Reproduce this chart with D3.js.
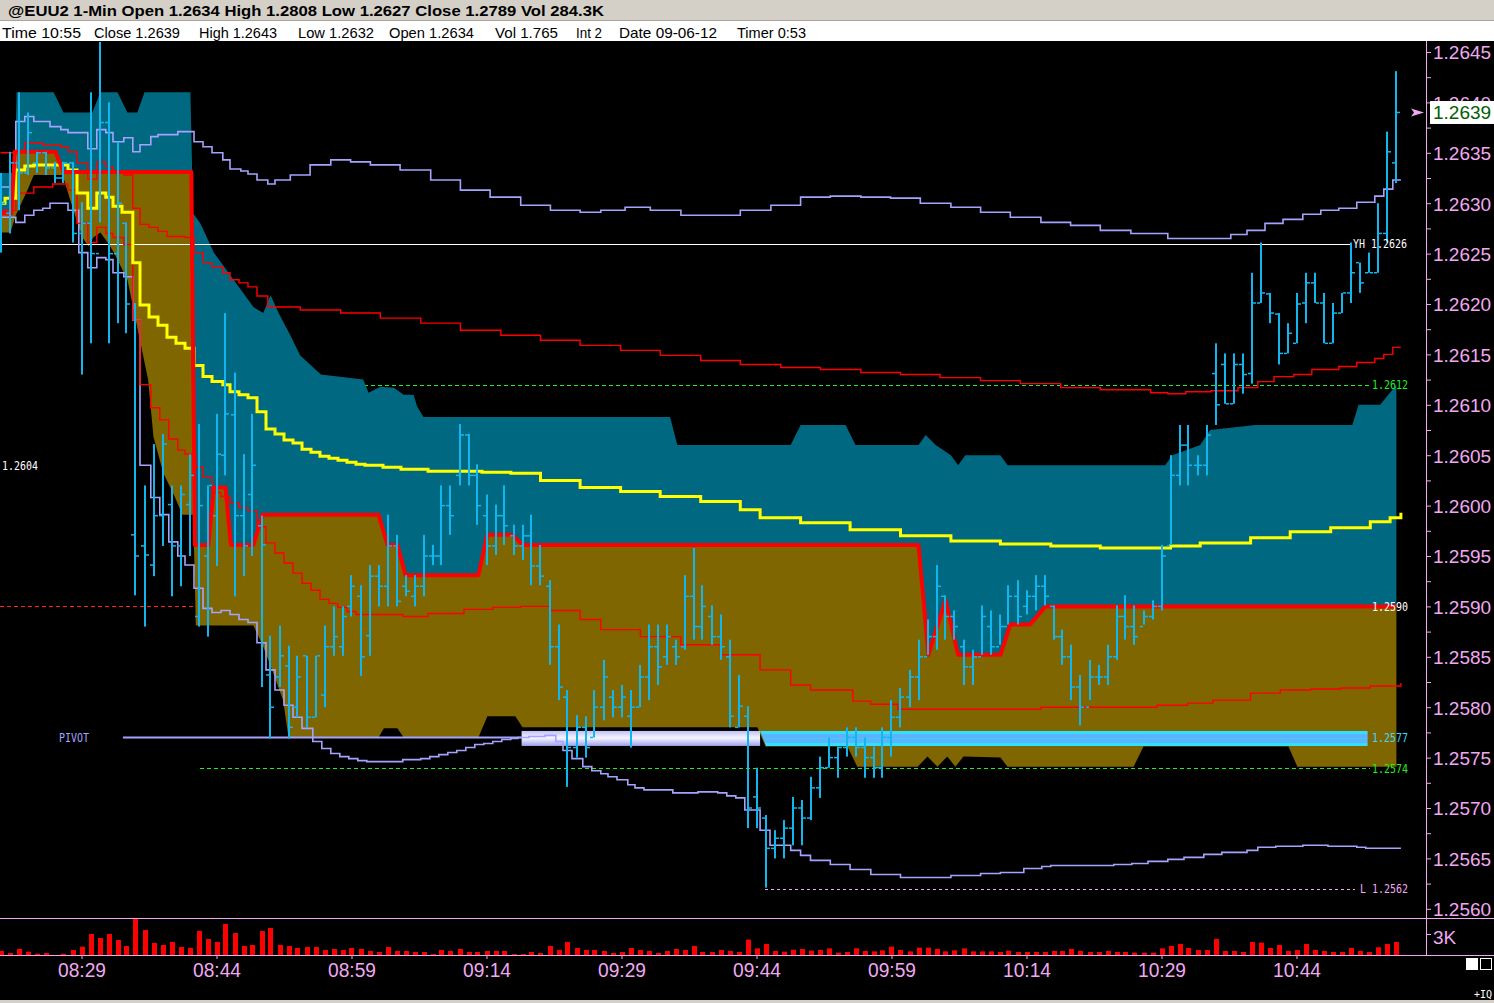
<!DOCTYPE html>
<html><head><meta charset="utf-8">
<script src="https://cdn.jsdelivr.net/npm/d3@7"></script>
<style>
html,body{margin:0;padding:0;background:#000;overflow:hidden;}
svg{display:block;}
</style></head><body>
<svg id="c" width="1494" height="1003"></svg>
<script>
// ---------------- DATA ----------------
const startTime = "08:20";
const timeTickBars = [9,24,39,54,69,84,99,114,129,144];
const timeTickLabels = ["08:29","08:44","08:59","09:14","09:29","09:44","09:59","10:14","10:29","10:44"];
const priceTickLabels = [1.2560,1.2565,1.2570,1.2575,1.2580,1.2585,1.2590,1.2595,1.2600,1.2605,1.2610,1.2615,1.2620,1.2625,1.2630,1.2635,1.2640,1.2645];
const priceMinorTicks = [1.25625,1.25675,1.25725,1.25775,1.25825,1.25875,1.25925,1.25975,1.26025,1.26075,1.26125,1.26175,1.26225,1.26275,1.26325,1.26375,1.26425];

const opens = [1.26270,1.26290,1.26340,1.26330,1.26340,1.26350,1.26335,1.26325,1.26340,1.26270,1.26280,1.26250,1.26380,1.26250,1.26280,1.25971,1.25960,1.25941,1.25990,1.26001,1.25960,1.26001,1.25890,1.25950,1.25990,1.26050,1.26090,1.25990,1.26011,1.25980,1.25832,1.25830,1.25841,1.25800,1.25851,1.25790,1.25812,1.25860,1.25860,1.25900,1.25910,1.25871,1.25930,1.25920,1.25960,1.25920,1.25910,1.25920,1.25950,1.25950,1.26000,1.26030,1.26070,1.26030,1.25990,1.25960,1.25990,1.25970,1.25960,1.25970,1.25940,1.25920,1.25860,1.25810,1.25760,1.25780,1.25770,1.25800,1.25810,1.25800,1.25791,1.25800,1.25830,1.25860,1.25850,1.25860,1.25860,1.25910,1.25880,1.25890,1.25870,1.25850,1.25780,1.25791,1.25711,1.25690,1.25660,1.25670,1.25680,1.25700,1.25690,1.25720,1.25740,1.25750,1.25760,1.25770,1.25760,1.25750,1.25740,1.25770,1.25790,1.25810,1.25830,1.25850,1.25870,1.25910,1.25890,1.25860,1.25840,1.25850,1.25880,1.25860,1.25880,1.25910,1.25900,1.25910,1.25920,1.25900,1.25870,1.25850,1.25820,1.25800,1.25830,1.25830,1.25850,1.25890,1.25880,1.25880,1.25890,1.25900,1.25960,1.26030,1.26060,1.26040,1.26040,1.26131,1.26140,1.26101,1.26140,1.26131,1.26201,1.26210,1.26190,1.26151,1.26161,1.26201,1.26221,1.26201,1.26161,1.26191,1.26211,1.26241,1.26231,1.26231,1.26270,1.26340];
const highs = [1.26330,1.26351,1.26410,1.26390,1.26351,1.26351,1.26341,1.26341,1.26341,1.26301,1.26410,1.26460,1.26400,1.26361,1.26281,1.26201,1.26020,1.26061,1.26071,1.26020,1.26020,1.26051,1.26081,1.26020,1.26091,1.26191,1.26132,1.26051,1.26091,1.25990,1.25871,1.25881,1.25861,1.25851,1.25851,1.25851,1.25881,1.25900,1.25900,1.25931,1.25921,1.25941,1.25941,1.25991,1.25971,1.25931,1.25931,1.25971,1.25961,1.26020,1.26020,1.26081,1.26071,1.26041,1.26011,1.26001,1.26020,1.25981,1.25981,1.25991,1.25961,1.25926,1.25882,1.25817,1.25792,1.25791,1.25817,1.25847,1.25817,1.25822,1.25817,1.25842,1.25882,1.25882,1.25882,1.25867,1.25931,1.25958,1.25921,1.25901,1.25892,1.25867,1.25832,1.25801,1.25740,1.25693,1.25678,1.25688,1.25711,1.25708,1.25731,1.25751,1.25770,1.25761,1.25780,1.25780,1.25770,1.25761,1.25780,1.25807,1.25819,1.25837,1.25867,1.25887,1.25941,1.25911,1.25896,1.25867,1.25857,1.25901,1.25896,1.25892,1.25921,1.25926,1.25916,1.25931,1.25931,1.25901,1.25877,1.25862,1.25832,1.25847,1.25842,1.25862,1.25901,1.25911,1.25901,1.25896,1.25906,1.25961,1.26050,1.26080,1.26080,1.26050,1.26080,1.26161,1.26151,1.26151,1.26151,1.26231,1.26261,1.26211,1.26191,1.26181,1.26211,1.26231,1.26231,1.26211,1.26201,1.26211,1.26261,1.26241,1.26251,1.26300,1.26371,1.26431];
const lows = [1.26251,1.26270,1.26293,1.26328,1.26330,1.26328,1.26320,1.26320,1.26261,1.26130,1.26161,1.26281,1.26161,1.26181,1.26171,1.25911,1.25880,1.25930,1.25960,1.25910,1.25920,1.25950,1.25880,1.25870,1.25940,1.26030,1.25910,1.25930,1.25950,1.25820,1.25769,1.25820,1.25769,1.25790,1.25780,1.25790,1.25800,1.25851,1.25851,1.25890,1.25831,1.25851,1.25900,1.25900,1.25900,1.25910,1.25900,1.25910,1.25941,1.25941,1.25971,1.26020,1.26020,1.25981,1.25941,1.25951,1.25961,1.25951,1.25946,1.25921,1.25921,1.25842,1.25807,1.25721,1.25750,1.25750,1.25770,1.25787,1.25790,1.25790,1.25760,1.25800,1.25807,1.25822,1.25842,1.25842,1.25857,1.25867,1.25867,1.25862,1.25847,1.25780,1.25780,1.25680,1.25680,1.25621,1.25650,1.25650,1.25663,1.25663,1.25688,1.25710,1.25740,1.25730,1.25751,1.25751,1.25730,1.25730,1.25730,1.25751,1.25780,1.25800,1.25807,1.25852,1.25857,1.25867,1.25867,1.25822,1.25822,1.25852,1.25852,1.25862,1.25882,1.25882,1.25892,1.25896,1.25901,1.25867,1.25842,1.25807,1.25782,1.25807,1.25822,1.25822,1.25847,1.25867,1.25862,1.25882,1.25887,1.25896,1.25961,1.26020,1.26020,1.26030,1.26030,1.26080,1.26101,1.26101,1.26111,1.26121,1.26201,1.26181,1.26140,1.26151,1.26161,1.26181,1.26201,1.26161,1.26161,1.26191,1.26201,1.26211,1.26231,1.26231,1.26261,1.26320];
const closes = [1.26300,1.26340,1.26330,1.26370,1.26350,1.26335,1.26325,1.26340,1.26270,1.26280,1.26250,1.26380,1.26250,1.26300,1.26200,1.25950,1.25951,1.25990,1.26061,1.25960,1.26011,1.26030,1.26000,1.26020,1.26051,1.26091,1.25990,1.25960,1.26040,1.25961,1.25800,1.25851,1.25780,1.25830,1.25790,1.25851,1.25860,1.25870,1.25890,1.25920,1.25850,1.25930,1.25920,1.25960,1.25905,1.25915,1.25920,1.25950,1.25950,1.26000,1.25990,1.26070,1.26030,1.26000,1.25960,1.25990,1.25980,1.25960,1.25970,1.25940,1.25930,1.25860,1.25820,1.25760,1.25780,1.25760,1.25800,1.25830,1.25800,1.25810,1.25800,1.25830,1.25860,1.25840,1.25870,1.25850,1.25910,1.25880,1.25900,1.25870,1.25860,1.25791,1.25801,1.25700,1.25700,1.25660,1.25670,1.25680,1.25700,1.25690,1.25720,1.25740,1.25750,1.25760,1.25770,1.25760,1.25750,1.25740,1.25770,1.25790,1.25810,1.25830,1.25850,1.25870,1.25920,1.25890,1.25880,1.25840,1.25850,1.25890,1.25860,1.25880,1.25910,1.25890,1.25910,1.25920,1.25910,1.25870,1.25850,1.25820,1.25800,1.25830,1.25830,1.25850,1.25890,1.25880,1.25870,1.25890,1.25900,1.25950,1.26030,1.26060,1.26040,1.26040,1.26070,1.26100,1.26101,1.26140,1.26130,1.26201,1.26211,1.26191,1.26151,1.26171,1.26200,1.26221,1.26201,1.26161,1.26191,1.26211,1.26231,1.26221,1.26231,1.26270,1.26351,1.26390];
const volumes = [570,290,860,480,190,290,0,190,710,1190,3000,2430,3000,2140,1290,5140,3570,1710,1430,1860,1140,1000,3430,2290,1860,4430,3140,1290,1430,3430,3860,1430,1290,1000,1140,1140,710,860,710,1000,860,570,430,1140,570,570,430,430,140,710,570,860,430,430,570,570,570,140,140,430,290,1290,710,1860,1000,710,710,570,290,430,1000,710,570,290,570,860,710,1290,430,430,710,570,430,2200,950,1570,570,480,760,860,620,710,950,330,430,950,570,520,670,1190,710,520,1050,1050,860,520,670,950,520,520,520,430,620,430,430,430,430,570,570,860,570,430,430,570,430,430,330,330,330,950,1290,1570,1000,710,710,2290,570,570,430,1860,1760,1000,1430,570,710,1570,710,570,430,430,1000,570,430,1100,1570,1860];

// indicator series: [bar position, price]
const upperBandLine = [[0,1.26316],[1.7,1.26381],[2.7,1.26386],[3.7,1.26381],[5.5,1.26376],[6.7,1.26373],[7.5,1.26370],[9.7,1.26354],[10.7,1.26373],[11.7,1.26370],[12.5,1.26361],[13.7,1.26365],[14.7,1.26351],[15.5,1.26358],[16.7,1.26366],[17.5,1.26368],[19.7,1.26371],[21.5,1.26361],[22.5,1.26356],[23.5,1.26350],[24.7,1.26343],[25.5,1.26334],[26.7,1.26332],[27.5,1.26329],[28.5,1.26323],[29.7,1.26319],[30.5,1.26323],[32.2,1.26328],[34.4,1.26338],[36.7,1.26343],[38.9,1.26341],[41.1,1.26338],[44.4,1.26333],[47.8,1.26323],[51.1,1.26313],[54.4,1.26306],[57.8,1.26298],[61.1,1.26293],[64.4,1.26291],[66.7,1.26293],[69.4,1.26296],[72.2,1.26293],[75.6,1.26288],[78.9,1.26288],[82.2,1.26293],[85.6,1.26298],[88.9,1.26306],[92.2,1.26307],[95.6,1.26306],[98.9,1.26305],[102.2,1.26300],[105.6,1.26296],[108.9,1.26291],[112.2,1.26286],[115.6,1.26281],[118.9,1.26278],[122.2,1.26273],[125.6,1.26270],[129.7,1.26265],[134.5,1.26265],[136.7,1.26269],[138.5,1.26273],[140.5,1.26280],[142.5,1.26284],[144.7,1.26289],[146.7,1.26293],[148.7,1.26295],[150.7,1.26301],[152.7,1.26307],[153.7,1.26314],[154.7,1.26323],[155.6,1.26323]];
const lowerBandLine = [[0,1.26286],[1.7,1.26281],[2.7,1.26288],[3.7,1.26293],[4.7,1.26295],[5.5,1.26300],[7.5,1.26293],[8.7,1.26251],[9.7,1.26236],[10.7,1.26246],[11.7,1.26244],[12.5,1.26231],[13.7,1.26227],[14.7,1.26184],[15.5,1.26040],[16.7,1.26008],[17.7,1.25991],[18.7,1.25964],[19.7,1.25950],[20.5,1.25941],[21.5,1.25918],[22.5,1.25898],[23.5,1.25894],[24.5,1.25896],[25.5,1.25892],[26.5,1.25887],[27.5,1.25884],[28.5,1.25864],[29.5,1.25837],[30.5,1.25817],[31.5,1.25802],[32.5,1.25790],[33.5,1.25779],[34.7,1.25766],[35.7,1.25759],[36.7,1.25754],[37.7,1.25751],[38.7,1.25749],[39.7,1.25747],[40.7,1.25746],[44.7,1.25748],[46.7,1.25749],[47.7,1.25751],[48.7,1.25753],[49.7,1.25755],[50.7,1.25757],[51.7,1.25760],[52.7,1.25763],[53.7,1.25764],[54.7,1.25766],[55.7,1.25768],[56.7,1.25769],[57.5,1.25770],[58.7,1.25771],[60.5,1.25772],[61.7,1.25766],[62.5,1.25757],[63.5,1.25749],[64.7,1.25741],[65.7,1.25737],[66.7,1.25734],[67.5,1.25731],[68.5,1.25728],[69.7,1.25723],[70.5,1.25720],[71.5,1.25718],[74.7,1.25715],[77.5,1.25716],[79.7,1.25715],[80.7,1.25712],[81.7,1.25710],[82.7,1.25698],[84.4,1.25678],[85.5,1.25663],[87.8,1.25658],[88.9,1.25653],[90,1.25648],[92.2,1.25644],[94.4,1.25639],[96.7,1.25634],[100,1.25631],[105.6,1.25633],[108.9,1.25635],[111.1,1.25636],[113.7,1.25640],[115.7,1.25642],[116.7,1.25643],[123.7,1.25644],[125.7,1.25645],[127.5,1.25647],[129.7,1.25649],[131.5,1.25651],[133.7,1.25654],[135.7,1.25656],[138.5,1.25658],[139.7,1.25661],[141.7,1.25662],[144.7,1.25663],[147.5,1.25662],[150.7,1.25661],[151.7,1.25660],[155.6,1.25660]];
const upperRedLine = [[0,1.26350],[2.7,1.26360],[4.7,1.26358],[6.7,1.26356],[7.5,1.26351],[8.5,1.26340],[9.7,1.26324],[10.7,1.26341],[11.7,1.26336],[12.5,1.26331],[13.7,1.26328],[14.7,1.26295],[15.5,1.26279],[16.5,1.26276],[17.5,1.26272],[18.5,1.26267],[20.5,1.26266],[21.5,1.26251],[22.5,1.26241],[23.5,1.26237],[24.7,1.26231],[25.5,1.26224],[26.5,1.26221],[27.5,1.26217],[28.5,1.26208],[29.7,1.26197],[33.3,1.26194],[37.8,1.26191],[42.2,1.26186],[46.7,1.26181],[51.1,1.26174],[55.6,1.26169],[60,1.26164],[64.4,1.26159],[68.9,1.26154],[73.3,1.26149],[77.8,1.26144],[82.2,1.26140],[86.7,1.26137],[91.1,1.26135],[95.6,1.26132],[100,1.26130],[104.4,1.26127],[108.9,1.26124],[113.3,1.26121],[117.8,1.26117],[122.2,1.26115],[127.8,1.26112],[129.7,1.26111],[131.7,1.26113],[134.5,1.26114],[137.5,1.26117],[139.7,1.26123],[141.5,1.26128],[143.7,1.26130],[145.7,1.26135],[148.7,1.26138],[150.7,1.26142],[152.7,1.26146],[153.7,1.26150],[154.7,1.26157],[155.6,1.26157]];
const lowerRedLine = [[0,1.26293],[1.7,1.26310],[3.7,1.26316],[5.8,1.26319],[7.5,1.26313],[8.5,1.26280],[9.7,1.26261],[10.7,1.26276],[11.7,1.26270],[12.5,1.26266],[13.7,1.26259],[14.7,1.26184],[15.5,1.26120],[16.7,1.26097],[17.7,1.26085],[18.7,1.26066],[19.7,1.26055],[20.5,1.26051],[21.7,1.26038],[22.5,1.26028],[23.5,1.26013],[24.5,1.26009],[25.5,1.26003],[26.5,1.25998],[27.5,1.25995],[28.5,1.25979],[29.5,1.25963],[30.5,1.25953],[31.5,1.25943],[32.5,1.25933],[33.5,1.25923],[34.5,1.25916],[35.5,1.25907],[36.5,1.25903],[37.5,1.25899],[38.5,1.25895],[39.5,1.25892],[44.7,1.25890],[47.5,1.25893],[51.5,1.25897],[54.7,1.25899],[57.8,1.25900],[61.1,1.25896],[64.4,1.25887],[66.7,1.25877],[71.1,1.25870],[75.6,1.25862],[80,1.25852],[84.4,1.25837],[87.8,1.25822],[90,1.25817],[94.7,1.25806],[96.7,1.25803],[99.7,1.25798],[111.1,1.25798],[115.6,1.25800],[125.6,1.25800],[128.5,1.25802],[131.9,1.25804],[134.7,1.25807],[138.9,1.25814],[142.2,1.25817],[145.6,1.25818],[148.9,1.25819],[152.2,1.25821],[155.6,1.25824]];
const yellowLine = [[0,1.26300],[0.5,1.26305],[1.7,1.26333],[2.7,1.26337],[3.7,1.26338],[7.5,1.26333],[8.5,1.26310],[9.7,1.26295],[10.7,1.26310],[11.7,1.26306],[12.5,1.26297],[13.5,1.26291],[14.7,1.26241],[15.5,1.26199],[16.5,1.26187],[17.5,1.26179],[18.5,1.26167],[19.5,1.26161],[20.5,1.26156],[21.5,1.26139],[22.5,1.26128],[23.5,1.26123],[24.7,1.26120],[25.5,1.26113],[26.5,1.26110],[27.5,1.26107],[28.5,1.26093],[29.5,1.26076],[30.5,1.26071],[31.5,1.26065],[32.5,1.26062],[33.5,1.26056],[34.5,1.26053],[35.5,1.26049],[36.5,1.26047],[37.5,1.26045],[38.5,1.26043],[39.5,1.26041],[40.5,1.26040],[42.5,1.26038],[44.5,1.26036],[47.5,1.26034],[53.5,1.26033],[56.7,1.26032],[60,1.26025],[64.4,1.26018],[68.9,1.26014],[73.3,1.26009],[77.8,1.26004],[82.2,1.25996],[84.4,1.25988],[88.9,1.25983],[94.4,1.25976],[100,1.25970],[105.6,1.25965],[111.1,1.25962],[116.7,1.25960],[122.2,1.25958],[130,1.25960],[133.3,1.25963],[138.9,1.25968],[143.3,1.25974],[147.8,1.25978],[152.2,1.25984],[154.4,1.25988],[155.6,1.25993]];
const cloudTop = [[0,1.26330],[1.55,1.26330],[1.8,1.26410],[5.9,1.26410],[7,1.26390],[10.2,1.26390],[11.1,1.26410],[13,1.26410],[14.1,1.26390],[15.2,1.26390],[16,1.26410],[21.1,1.26410],[21.4,1.26290],[22.2,1.26280],[23.7,1.26251],[25.9,1.26224],[28.1,1.26197],[29.2,1.26191],[30,1.26209],[30.9,1.26191],[32.2,1.26169],[33.3,1.26149],[35.6,1.26130],[40.3,1.26125],[40.9,1.26112],[42.2,1.26118],[43.7,1.26117],[44.8,1.26110],[45.9,1.26110],[46.3,1.26098],[47,1.26088],[74.4,1.26088],[75.2,1.26060],[87.8,1.26060],[88.9,1.26080],[93.9,1.26080],[95,1.26060],[102,1.26060],[102.8,1.26070],[103.9,1.26060],[105.6,1.26050],[106.4,1.26040],[107.2,1.26050],[111.1,1.26050],[111.9,1.26040],[129.4,1.26040],[130.2,1.26050],[133.3,1.26060],[134.4,1.26075],[139.4,1.26080],[150.2,1.26080],[150.9,1.26100],[153.3,1.26100],[155.1,1.26120]];
const cloudMid = [[0,1.26290],[1.2,1.26290],[1.6,1.26351],[6.1,1.26351],[7,1.26331],[21.2,1.26331],[21.6,1.25961],[23.1,1.25961],[23.7,1.26018],[25,1.26018],[25.6,1.25961],[28.1,1.25961],[29.1,1.25991],[42,1.25991],[43,1.25961],[44.1,1.25961],[45,1.25931],[53.1,1.25931],[54.1,1.25971],[56.9,1.25971],[58,1.25961],[102,1.25961],[103.1,1.25852],[105,1.25906],[106.4,1.25852],[111.1,1.25852],[112.2,1.25882],[114.4,1.25882],[116.1,1.25900],[155.1,1.25900]];
const cloudBottom = [[0,1.26271],[1.1,1.26271],[1.7,1.26288],[3,1.26313],[3.7,1.26328],[6.9,1.26328],[8,1.26296],[9.1,1.26266],[9.8,1.26257],[10.3,1.26266],[11.1,1.26271],[11.9,1.26261],[12.6,1.26251],[14.1,1.26224],[16.4,1.26125],[17,1.26068],[18.1,1.26032],[19.4,1.26008],[20.2,1.25991],[21.4,1.25991],[21.6,1.25926],[21.7,1.25881],[28.1,1.25881],[29.2,1.25860],[30.3,1.25834],[31.4,1.25807],[32,1.25770],[42,1.25770],[42.6,1.25779],[44.1,1.25779],[44.8,1.25770],[53.1,1.25770],[54.1,1.25791],[57.2,1.25791],[58,1.25780],[84.1,1.25780],[85,1.25761],[94.1,1.25761],[95.2,1.25741],[101.9,1.25741],[103,1.25751],[104.1,1.25741],[105.2,1.25751],[106.1,1.25741],[107,1.25751],[111.1,1.25750],[111.9,1.25741],[125.9,1.25741],[127,1.25761],[143.1,1.25761],[144.1,1.25741],[155.1,1.25741]];

const yesterdayHigh = 1.2626;
const levelGreenHigh = 1.2612;
const levelRed = 1.2590;
const pivotLevel = 1.2577;
const levelGreenLow = 1.2574;
const sessionLow = 1.2562;
const leftLevelLabel = "1.2604";
const pivotSpanLav = [57.9, 84.4];
const pivotSpanCyan = [84.4, 151.9];
const lastClose = 1.2639;
const volTick = [3000];

// ---------------- CHART ----------------
const svg = d3.select("#c");
const W = 1494, H = 1003;
const PINK = "#f0a8f0", CYAN = "#12b6ee", LAV = "#a4a4ff";

svg.append("rect").attr("width",W).attr("height",H).attr("fill","#000");
svg.append("rect").attr("x",0).attr("y",0).attr("width",W).attr("height",21).attr("fill","#d4d0c8");
svg.append("rect").attr("x",0).attr("y",20).attr("width",W).attr("height",1).attr("fill","#a8a49c");
svg.append("rect").attr("x",0).attr("y",21).attr("width",W).attr("height",20).attr("fill","#ffffff");
svg.append("rect").attr("x",0).attr("y",1000).attr("width",W).attr("height",3).attr("fill","#d4d0c8");

svg.append("text").attr("x",8).attr("y",16).attr("font-family","Liberation Sans, Arial, sans-serif")
  .attr("font-size",15).attr("font-weight","bold").attr("fill","#000")
  .attr("textLength",596).attr("lengthAdjust","spacingAndGlyphs")
  .text("@EUU2 1-Min Open 1.2634 High 1.2808 Low 1.2627 Close 1.2789 Vol 284.3K");

const infoLabels = ["Time 10:55","Close 1.2639","High 1.2643","Low 1.2632","Open 1.2634","Vol 1.765","Int 2","Date 09-06-12","Timer 0:53"];
const infoPos = [[2,79],[94,86],[199,78],[298,76],[389,85],[495,63],[576,26],[619,98],[737,69]];
svg.append("g").selectAll("text").data(infoLabels).join("text")
  .attr("x",(d,i)=>infoPos[i][0]).attr("y",38)
  .attr("font-family","Liberation Sans Narrow, Arial Narrow, Liberation Sans, sans-serif")
  .attr("font-size",15).attr("fill","#000")
  .attr("textLength",(d,i)=>infoPos[i][1]).attr("lengthAdjust","spacingAndGlyphs")
  .text(d=>d);

const x = d3.scaleLinear().domain([0,155]).range([0.5,1395.5]);
const y = d3.scaleLinear().domain([1.2560,1.2645]).range([908.8,52]);
const yv = d3.scaleLinear().domain([0,3000]).range([955,934]);

const defs = svg.append("defs");
const gLav = defs.append("linearGradient").attr("id","gLav").attr("x1",0).attr("y1",0).attr("x2",0).attr("y2",1);
[["0%","#c0c0f4"],["45%","#f4f4ff"],["55%","#e8e8ff"],["100%","#a0a0ec"]].forEach(s=>gLav.append("stop").attr("offset",s[0]).attr("stop-color",s[1]));
const gCy = defs.append("linearGradient").attr("id","gCy").attr("x1",0).attr("y1",0).attr("x2",0).attr("y2",1);
[["0%","#30e0ff"],["18%","#30e0ff"],["22%","#5cb4ff"],["45%","#5cb4ff"],["50%","#44c8ff"],["55%","#5cb4ff"],["78%","#5cb4ff"],["82%","#30e0ff"],["100%","#30e0ff"]].forEach(s=>gCy.append("stop").attr("offset",s[0]).attr("stop-color",s[1]));

const plot = svg.append("g");
defs.append("clipPath").attr("id","pc").append("rect").attr("x",0).attr("y",41).attr("width",1426).attr("height",877);
plot.attr("clip-path","url(#pc)");

// background dashed levels
function hline(v, x0, x1, color, dash, w){
  plot.append("line").attr("x1",x0).attr("x2",x1).attr("y1",Math.round(y(v))+0.5).attr("y2",Math.round(y(v))+0.5)
    .attr("stroke",color).attr("stroke-width",w||1).attr("stroke-dasharray",dash||null);
}
hline(levelGreenHigh, 203, 1370, "#22ee22", "4,3");
hline(levelRed, 0, 1370, "#ff2020", "4,3");
hline(levelGreenLow, 200, 1370, "#22ee22", "4,3");

// cloud areas
const lin = d3.line().x(d=>x(d[0])).y(d=>y(d[1]));
plot.append("path").attr("d", lin(cloudTop.concat(cloudMid.slice().reverse()))+"Z").attr("fill","#006880");
plot.append("path").attr("d", lin(cloudMid.concat(cloudBottom.slice().reverse()))+"Z").attr("fill","#7f6600");

// pivot
const py = y(pivotLevel);
plot.append("line").attr("x1",123).attr("x2",x(pivotSpanLav[0])).attr("y1",py).attr("y2",py).attr("stroke",LAV).attr("stroke-width",2);
plot.append("rect").attr("x",x(pivotSpanLav[0])).attr("y",py-6.5).attr("width",x(pivotSpanLav[1])-x(pivotSpanLav[0])).attr("height",15).attr("fill","url(#gLav)");
const cx0 = x(pivotSpanCyan[0]), cx1 = x(pivotSpanCyan[1]);
plot.append("path").attr("d",`M${cx0},${py-6.5}L${cx1},${py-6.5}L${cx1},${py+8.5}L${cx0+6},${py+8.5}Z`).attr("fill","url(#gCy)");

// YH line
plot.append("line").attr("x1",0).attr("x2",1350).attr("y1",Math.round(y(yesterdayHigh))+0.5).attr("y2",Math.round(y(yesterdayHigh))+0.5).attr("stroke","#ffffff").attr("stroke-width",1);

// indicator lines
const step = d3.line().x(d=>x(d[0])).y(d=>y(d[1])).curve(d3.curveStepAfter);
plot.append("path").attr("d",step(upperBandLine)).attr("fill","none").attr("stroke",LAV).attr("stroke-width",1.6);
plot.append("path").attr("d",step(lowerBandLine)).attr("fill","none").attr("stroke",LAV).attr("stroke-width",1.6);
plot.append("path").attr("d",step(upperRedLine)).attr("fill","none").attr("stroke","#ff0000").attr("stroke-width",1.4);
plot.append("path").attr("d",step(lowerRedLine)).attr("fill","none").attr("stroke","#ff0000").attr("stroke-width",1.4);
plot.append("path").attr("d",step(yellowLine)).attr("fill","none").attr("stroke","#ffff00").attr("stroke-width",3);
plot.append("path").attr("d",lin(cloudMid)).attr("fill","none").attr("stroke","#ff0000").attr("stroke-width",4).attr("stroke-linejoin","round");

// price bars
const bars = plot.append("g");
opens.forEach((o,i)=>{
  const xc = Math.round(x(i));
  const yh = y(highs[i]), yl = y(lows[i]);
  bars.append("rect").attr("x",xc-1).attr("y",yh).attr("width",2).attr("height",Math.max(2,yl-yh)).attr("fill",CYAN);
  bars.append("rect").attr("x",xc-4).attr("y",y(o)-0.75).attr("width",3).attr("height",1.5).attr("fill",CYAN);
  bars.append("rect").attr("x",xc+1).attr("y",y(closes[i])-0.75).attr("width",3).attr("height",1.5).attr("fill",CYAN);
});

// session low
hline(sessionLow, 765, 1355, PINK, "3,3");

// level labels
const small = (t, xx, yy, color) => plot.append("text").attr("x",xx).attr("y",yy).attr("fill",color)
  .attr("font-family","DejaVu Sans Mono, monospace").attr("font-size",13)
  .attr("textLength",t.length*6).attr("lengthAdjust","spacingAndGlyphs").text(t);
small("YH " + yesterdayHigh.toFixed(4), 1353, y(yesterdayHigh)+4.5, "#ffffff");
small(levelGreenHigh.toFixed(4), 1372, y(levelGreenHigh)+4.5, "#22ee22");
small(levelRed.toFixed(4), 1372, y(levelRed)+4.5, "#ffffff");
small(pivotLevel.toFixed(4), 1372, y(pivotLevel)+5, "#40d8ff");
small(levelGreenLow.toFixed(4), 1372, y(levelGreenLow)+5, "#22ee22");
small("L " + sessionLow.toFixed(4), 1360, y(sessionLow)+4.5, PINK);
small("PIVOT", 59, y(pivotLevel)+5, LAV);
small(leftLevelLabel, 2, y(+leftLevelLabel)+4.5, "#ffffff");

// volume
svg.append("g").selectAll("rect").data(volumes).join("rect")
  .attr("x",(d,i)=>Math.round(x(i))-2).attr("y",d=>yv(d)).attr("width",5).attr("height",d=>955-yv(d)).attr("fill","#ff0000");

// frame lines
svg.append("line").attr("x1",0).attr("x2",W).attr("y1",918.5).attr("y2",918.5).attr("stroke",PINK);
svg.append("line").attr("x1",0).attr("x2",W).attr("y1",955.5).attr("y2",955.5).attr("stroke",PINK);
svg.append("line").attr("x1",1426.5).attr("x2",1426.5).attr("y1",41).attr("y2",955).attr("stroke",PINK);

// price axis
const pAx = svg.append("g").attr("transform","translate(1426,0)")
  .call(d3.axisRight(y).tickValues(priceTickLabels).tickFormat(d3.format(".4f")).tickSize(5).tickPadding(2));
pAx.select(".domain").remove();
pAx.selectAll("line").attr("stroke",PINK);
pAx.selectAll("text").attr("fill",PINK).attr("font-family","Liberation Sans, Arial, sans-serif").attr("font-size",19).attr("dy","0.36em");
const mAx = svg.append("g").attr("transform","translate(1426,0)")
  .call(d3.axisRight(y).tickValues(priceMinorTicks).tickFormat("").tickSize(5));
mAx.select(".domain").remove();
mAx.selectAll("line").attr("stroke",PINK);

// volume axis
const vAx = svg.append("g").attr("transform","translate(1426,0)")
  .call(d3.axisRight(yv).tickValues(volTick).tickFormat(d=>(d/1000)+"K").tickSize(5).tickPadding(2));
vAx.select(".domain").remove();
vAx.selectAll("line").attr("stroke",PINK);
vAx.selectAll("text").attr("fill",PINK).attr("font-family","Liberation Sans, Arial, sans-serif").attr("font-size",19).attr("dy","0.5em");

// time axis
const tAx = svg.append("g").attr("transform","translate(0,955)")
  .call(d3.axisBottom(x).tickValues(timeTickBars).tickFormat((d,i)=>timeTickLabels[i]).tickSize(4).tickPadding(4));
tAx.select(".domain").remove();
tAx.selectAll("line").attr("stroke",PINK);
tAx.selectAll("text").attr("fill",PINK).attr("font-family","Liberation Sans, Arial, sans-serif").attr("font-size",20)
  .attr("textLength",48).attr("lengthAdjust","spacingAndGlyphs");

// last price marker
const ly = y(lastClose);
svg.append("path").attr("d",`M1411,${ly-4}L1424,${ly}L1411,${ly+4}L1414,${ly}Z`).attr("fill",PINK);
svg.append("rect").attr("x",1430).attr("y",ly-11.5).attr("width",64).attr("height",23).attr("fill","#ffffff");
svg.append("text").attr("x",1433).attr("y",ly+7).attr("fill","#006000").attr("font-family","Liberation Sans, Arial, sans-serif").attr("font-size",19).text(lastClose.toFixed(4));

// corner widgets
svg.append("rect").attr("x",1466.5).attr("y",958.5).attr("width",11).attr("height",11).attr("fill","#ffffff").attr("stroke","#ffffff");
svg.append("rect").attr("x",1480.5).attr("y",958.5).attr("width",11).attr("height",11).attr("fill","none").attr("stroke","#ffffff");
svg.append("text").attr("x",1474).attr("y",998).attr("fill","#ffffff").attr("font-family","DejaVu Sans Mono, monospace").attr("font-size",10).text("+IQ");
</script>
</body></html>
